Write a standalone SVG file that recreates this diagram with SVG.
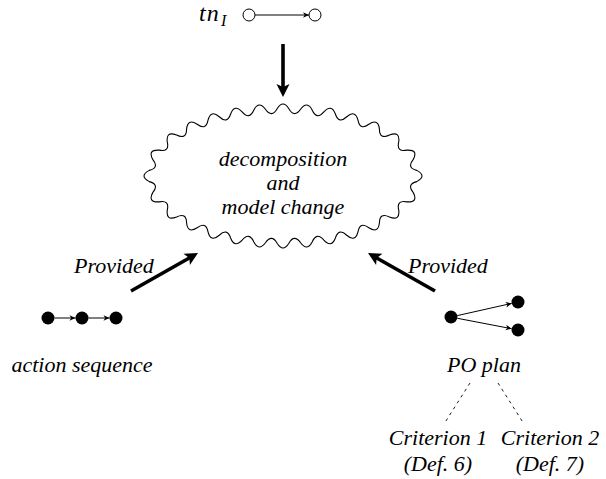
<svg xmlns="http://www.w3.org/2000/svg" width="606" height="479" viewBox="0 0 606 479">
<style>
text{font-family:'Liberation Serif','DejaVu Serif',serif;font-style:italic;font-size:22px;fill:#000}
.c{text-anchor:middle}
.thick{stroke:#000;stroke-width:3.6;fill:none;marker-end:url(#big)}
.thin{stroke:#000;stroke-width:1;fill:none;marker-end:url(#small)}
.dash{stroke:#000;stroke-width:0.9;stroke-dasharray:3 4;fill:none}
.open{fill:#fff;stroke:#000;stroke-width:1}
.full{fill:#000}
</style>
<defs>
<marker id="big" markerUnits="userSpaceOnUse" viewBox="-10 -10 20 20" markerWidth="20" markerHeight="20" refX="0" refY="0" orient="auto">
<path d="M8,0 L-5,-6.5 L-2,0 L-5,6.5 Z" fill="#000"/>
</marker>
<marker id="small" markerUnits="userSpaceOnUse" viewBox="-8 -5 10 10" markerWidth="10" markerHeight="10" refX="0" refY="0" orient="auto">
<path d="M0,0 L-6,-2.8 L-4.3,0 L-6,2.8 Z" fill="#000"/>
</marker>
</defs>

<g id="tnI">
<text x="199" y="21" style="font-size:24px;letter-spacing:1px">tn</text>
<text x="221" y="26" style="font-size:16px">I</text>
<circle class="open" cx="249" cy="15" r="6"/>
<circle class="open" cx="315" cy="15" r="6"/>
<line class="thin" x1="255" y1="15" x2="309" y2="15"/>
</g>

<g id="cloud">
<path transform="translate(283,176) scale(0.9653,0.935) translate(-283,-175)" vector-effect="non-scaling-stroke" fill="none" stroke="#000" stroke-width="1.1" d="M421.51,168.97 Q410.99,166.03 417.83,157.49 Q423.55,146.63 411.32,147.32 Q400.30,149.55 402.89,138.57 Q404.42,126.64 393.31,131.19 Q383.11,136.36 382.87,124.92 Q381.90,113.09 371.93,119.66 Q362.74,126.60 360.67,115.29 Q357.85,103.73 349.04,111.65 Q340.77,119.72 337.27,108.71 Q333.18,97.59 325.34,106.42 Q317.93,115.32 313.32,104.73 Q308.16,94.06 301.21,103.62 Q294.68,113.19 289.08,103.07 Q283,92.93 276.92,103.07 Q271.32,113.19 264.79,103.62 Q257.84,94.06 252.68,104.73 Q248.07,115.32 240.66,106.42 Q232.82,97.59 228.73,108.71 Q225.23,119.72 216.96,111.65 Q208.15,103.73 205.33,115.29 Q203.26,126.60 194.07,119.66 Q184.10,113.09 183.13,124.92 Q182.89,136.36 172.69,131.19 Q161.58,126.64 163.11,138.57 Q165.70,149.55 154.68,147.32 Q142.45,146.63 148.17,157.49 Q155.01,166.03 144.49,168.97 Q133.51,175 144.49,181.03 Q155.01,183.97 148.17,192.51 Q142.45,203.37 154.68,202.68 Q165.70,200.45 163.11,211.43 Q161.58,223.36 172.69,218.81 Q182.89,213.64 183.13,225.08 Q184.10,236.91 194.07,230.34 Q203.26,223.40 205.33,234.71 Q208.15,246.27 216.96,238.35 Q225.23,230.28 228.73,241.29 Q232.82,252.41 240.66,243.58 Q248.07,234.68 252.68,245.27 Q257.84,255.94 264.79,246.38 Q271.32,236.81 276.92,246.93 Q283,257.07 289.08,246.93 Q294.68,236.81 301.21,246.38 Q308.16,255.94 313.32,245.27 Q317.93,234.68 325.34,243.58 Q333.18,252.41 337.27,241.29 Q340.77,230.28 349.04,238.35 Q357.85,246.27 360.67,234.71 Q362.74,223.40 371.93,230.34 Q381.90,236.91 382.87,225.08 Q383.11,213.64 393.31,218.81 Q404.42,223.36 402.89,211.43 Q400.30,200.45 411.32,202.68 Q423.55,203.37 417.83,192.51 Q410.99,183.97 421.51,181.03 Q432.49,175 421.51,168.97 Z"/>
<text class="c" x="283" y="166">decomposition</text>
<text class="c" x="283" y="190">and</text>
<text class="c" x="283" y="214">model change</text>
</g>

<g id="actionseq">
<circle class="full" cx="48" cy="318" r="6.5"/>
<circle class="full" cx="82" cy="318" r="6.5"/>
<circle class="full" cx="116" cy="318" r="6.5"/>
<line class="thin" x1="54.5" y1="318" x2="75.5" y2="318"/>
<line class="thin" x1="88.5" y1="318" x2="109.5" y2="318"/>
<text class="c" x="82" y="372">action sequence</text>
</g>

<g id="poplan">
<circle class="full" cx="451" cy="317" r="6.5"/>
<circle class="full" cx="518" cy="302" r="6.5"/>
<circle class="full" cx="518" cy="330" r="6.5"/>
<line class="thin" x1="457.3" y1="315.6" x2="511.7" y2="303.4"/>
<line class="thin" x1="457.4" y1="318.3" x2="511.6" y2="328.7"/>
<text class="c" x="484" y="372">PO plan</text>
</g>

<g id="crit1">
<text class="c" x="438" y="445">Criterion 1</text>
<text class="c" x="438" y="471">(Def. 6)</text>
</g>

<g id="crit2">
<text class="c" x="550" y="445">Criterion 2</text>
<text class="c" x="550" y="471">(Def. 7)</text>
</g>

<g id="connectors">
<line class="thick" x1="283" y1="44" x2="283" y2="89"/>
<line class="thick" x1="131" y1="291" x2="191.04" y2="256.95"/>
<line class="thick" x1="435" y1="291" x2="374.96" y2="256.95"/>
<line class="dash" x1="470" y1="383" x2="444" y2="424"/>
<line class="dash" x1="498" y1="383" x2="524" y2="424"/>
<text x="74" y="273">Provided</text>
<text x="408" y="273">Provided</text>
</g>
</svg>
